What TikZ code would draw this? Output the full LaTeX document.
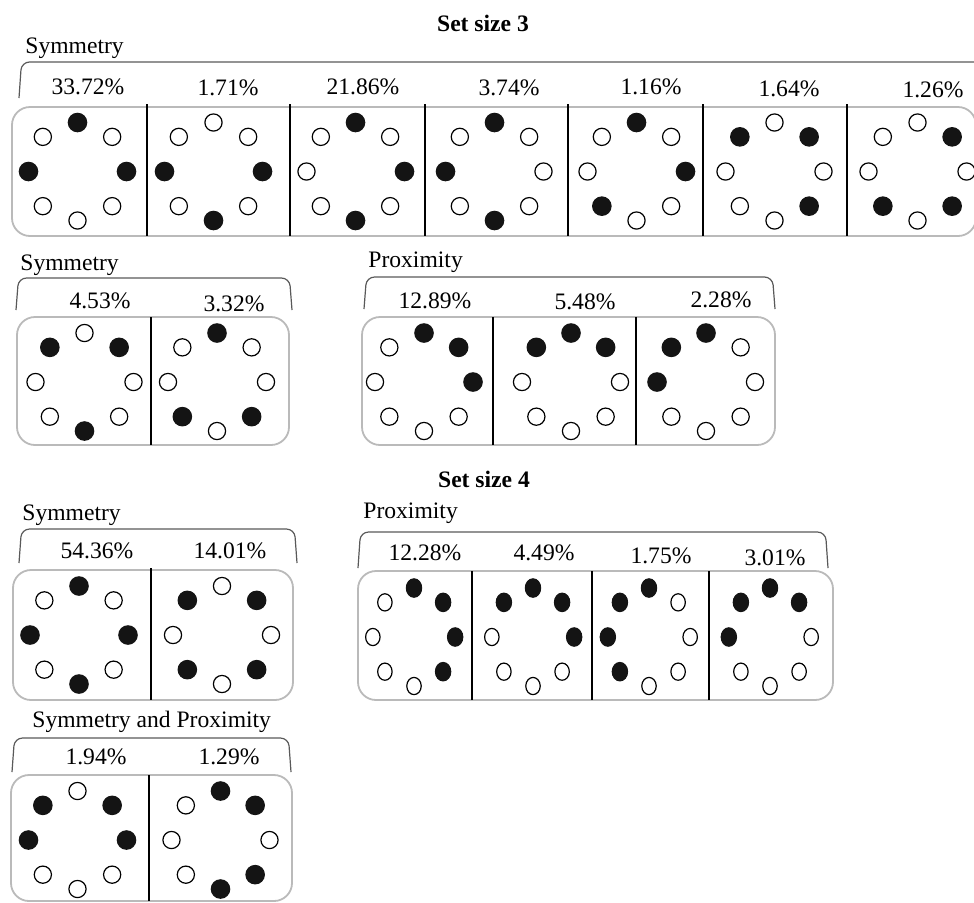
\documentclass[tikz,border=0pt]{standalone}
\usepackage{fontspec}
\setmainfont{Liberation Serif}

\begin{document}
\begin{tikzpicture}[
  x=0.5pt,
  y=0.5pt,
  every node/.style={
      inner sep=0pt,
      font=\fontsize{11.8}{14}\selectfont
  },
  title/.style={
      anchor=base,
      font=\fontsize{11.8}{14}\selectfont\bfseries
  },
  group/.style={
      anchor=base west
  },
  share/.style={
      anchor=base
  },
  bracket/.style={
      draw=black!65,
      line width=0.6pt,
      rounded corners=4pt
  },
  frame/.style={
      draw=black!27,
      line width=0.9pt,
      rounded corners=9pt
  },
  divider/.style={
      draw=black,
      line width=0.8pt
  },
  ring/.style={
      draw=black,
      line width=0.6pt,
      fill=white
  },
  disc/.style={
      fill=black!92
  }
]

\useasboundingbox (0,0) rectangle (974,-902);
\clip (0,0) rectangle (974,-902);

% ==================================================
% Set size 3 : Symmetry (top row)
% ==================================================

\node[title] (size3) at (483,-31) {Set size 3};
\node[group] (symA) at (25,-53) {Symmetry};

\draw[bracket] (19,-98) -- (21.5,-62) -- (990,-62);
\draw[frame] (12,-107) rectangle (976,-236);

\foreach \xd in {147,290,425,568,703,847}
  \draw[divider] (\xd,-104) -- (\xd,-236);

\node[share] (pA1) at (88,-94)  {33.72\%};
\node[share] (pA2) at (228,-95) {1.71\%};
\node[share] (pA3) at (363,-94) {21.86\%};
\node[share] (pA4) at (509,-95) {3.74\%};
\node[share] (pA5) at (651,-94) {1.16\%};
\node[share] (pA6) at (789,-96) {1.64\%};
\node[share] (pA7) at (933,-97) {1.26\%};

\foreach \cx/\on in {77.5/{90,0,180}, 213.5/{0,-90,180}, 355.5/{90,0,-90},
                     494.5/{90,-90,180}, 636.5/{90,0,-135}, 774.5/{45,-45,135},
                     917.5/{45,-45,-135}}{
  \begin{scope}[shift={(\cx,-171.5)}]
    \foreach \a in {0,45,...,315} \draw[ring] (\a:49) circle (8.6);
    \foreach \a in \on \fill[disc] (\a:49) circle (9.8);
  \end{scope}
}

% ==================================================
% Set size 3 : Symmetry (second row)
% ==================================================

\node[group] (symB) at (20,-270) {Symmetry};

\draw[bracket] (16,-310) -- (18.5,-278) -- (289.5,-278) -- (292,-310);
\draw[frame] (17,-317) rectangle (289,-445);
\draw[divider] (151,-317) -- (151,-445);

\node[share] (pB1) at (100,-308) {4.53\%};
\node[share] (pB2) at (234,-311) {3.32\%};

\foreach \cx/\on in {84.5/{45,135,-90}, 217/{90,-45,-135}}{
  \begin{scope}[shift={(\cx,-382)}]
    \foreach \a in {0,45,...,315} \draw[ring] (\a:49) circle (8.6);
    \foreach \a in \on \fill[disc] (\a:49) circle (9.8);
  \end{scope}
}

% ==================================================
% Set size 3 : Proximity
% ==================================================

\node[group] (proxB) at (368,-267) {Proximity};

\draw[bracket] (364,-309) -- (366.5,-277) -- (772.5,-277) -- (775,-309);
\draw[frame] (362,-317) rectangle (775,-445);

\foreach \xd in {493,636}
  \draw[divider] (\xd,-317) -- (\xd,-445);

\node[share] (pC1) at (435,-308) {12.89\%};
\node[share] (pC2) at (585,-309) {5.48\%};
\node[share] (pC3) at (721,-307) {2.28\%};

\foreach \cx/\on in {424/{90,45,0}, 571/{135,90,45}, 706/{90,135,180}}{
  \begin{scope}[shift={(\cx,-382)}]
    \foreach \a in {0,45,...,315} \draw[ring] (\a:49) circle (8.6);
    \foreach \a in \on \fill[disc] (\a:49) circle (9.8);
  \end{scope}
}

% ==================================================
% Set size 4 : Symmetry
% ==================================================

\node[title] (size4) at (484,-487) {Set size 4};
\node[group] (symD) at (22,-520) {Symmetry};

\draw[bracket] (19,-563) -- (21.5,-529) -- (294.5,-529) -- (297,-563);
\draw[frame] (13,-570) rectangle (293,-700);
\draw[divider] (151,-568) -- (151,-700);

\node[share] (pD1) at (97,-558)  {54.36\%};
\node[share] (pD2) at (230,-558) {14.01\%};

\foreach \cx/\on in {79/{90,0,-90,180}, 222/{45,-45,-135,135}}{
  \begin{scope}[shift={(\cx,-635)}]
    \foreach \a in {0,45,...,315} \draw[ring] (\a:49) circle (8.6);
    \foreach \a in \on \fill[disc] (\a:49) circle (9.8);
  \end{scope}
}

% ==================================================
% Set size 4 : Proximity
% ==================================================

\node[group] (proxE) at (363,-518) {Proximity};

\draw[bracket] (358,-568) -- (360.5,-532) -- (825.5,-532) -- (828,-568);
\draw[frame] (358,-571) rectangle (833,-700);

\foreach \xd in {472,592,709}
  \draw[divider] (\xd,-571) -- (\xd,-700);

\node[share] (pE1) at (425,-560) {12.28\%};
\node[share] (pE2) at (544,-560) {4.49\%};
\node[share] (pE3) at (661,-563) {1.75\%};
\node[share] (pE4) at (775,-565) {3.01\%};

\foreach \cx/\on in {414/{90,45,0,-45}, 533/{135,90,45,0},
                     649/{90,135,180,-135}, 770/{180,135,90,45}}{
  \begin{scope}[shift={(\cx,-637)}, xscale=0.84]
    \foreach \a in {0,45,...,315} \draw[ring] (\a:49) circle (8.6);
    \foreach \a in \on \fill[disc] (\a:49) circle (9.8);
  \end{scope}
}

% ==================================================
% Set size 4 : Symmetry and Proximity
% ==================================================

\node[group] (bothF) at (32,-727) {Symmetry and Proximity};

\draw[bracket] (12,-772) -- (14.5,-738) -- (288.5,-738) -- (291,-772);
\draw[frame] (11,-775) rectangle (292,-901);
\draw[divider] (149,-775) -- (149,-901);

\node[share] (pF1) at (96,-764)  {1.94\%};
\node[share] (pF2) at (229,-764) {1.29\%};

\foreach \cx/\on in {77.5/{135,45,180,0}, 220.5/{90,45,-45,-90}}{
  \begin{scope}[shift={(\cx,-840)}]
    \foreach \a in {0,45,...,315} \draw[ring] (\a:49) circle (8.6);
    \foreach \a in \on \fill[disc] (\a:49) circle (9.8);
  \end{scope}
}

\end{tikzpicture}
\end{document}
